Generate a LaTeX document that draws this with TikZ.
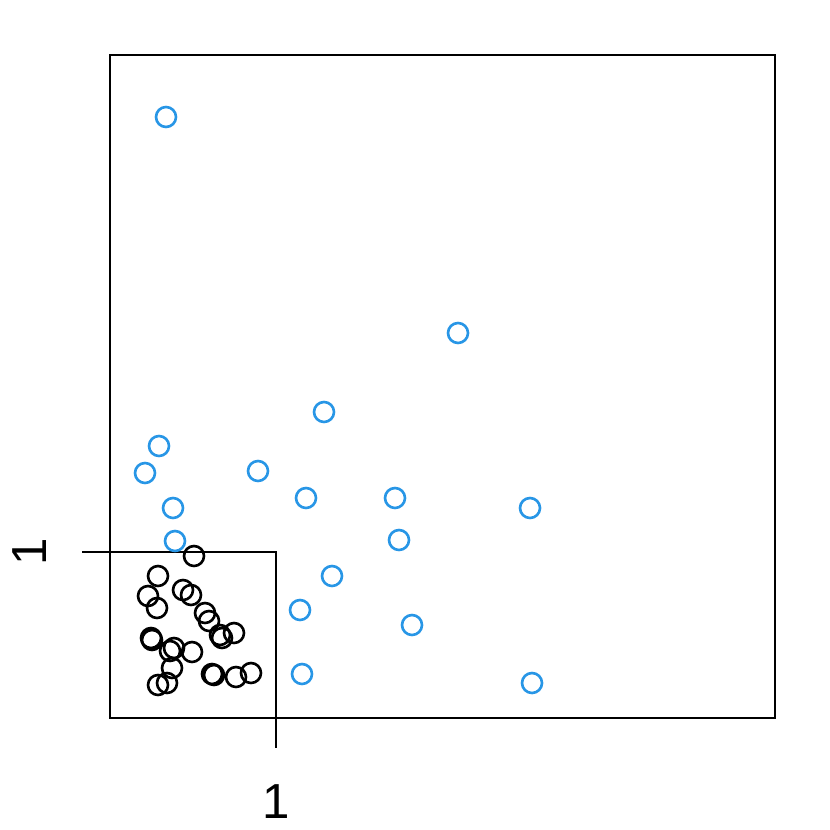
\documentclass[tikz,border=0pt]{standalone}
\usepackage{fontspec}
\setmainfont{Liberation Sans}
\usepackage{tikz}
\definecolor{ptblue}{HTML}{2896E6}
\tikzstyle{pt_b} = [circle, draw=ptblue, line width=1.5pt, inner sep=0pt, minimum size=0.4cm]
\tikzstyle{pt_k} = [circle, draw=black, line width=1.5pt, inner sep=0pt, minimum size=0.4cm]
\tikzstyle{lab} = [font=\fontsize{28}{28}\selectfont]
\begin{document}
\begin{tikzpicture}[x=0.02cm,y=-0.02cm,line width=1.4pt]
\useasboundingbox (0,0) rectangle (830,830);
% frames
\node [draw, minimum width=13.3cm, minimum height=13.26cm, inner sep=0pt, line width=1.4pt] (outer) at (442.5,386.5) {};
\coordinate (o) at (110,718);
\coordinate (c) at (276,552);
\coordinate (tl) at (82,552);
\coordinate (tb) at (276,748);
\draw (tl) -| (c) -- (tb);
\draw (110,552) -- (c);
\node [lab] (xlab) at (276,802) {1};
\node [lab, rotate=90] (ylab) at (30,552) {1};
% blue points
\foreach \px/\py [count=\i] in {166/117,458/333,324/412,159/446,145/473,258/471,306/498,395/498,530/508,173/508,175/541,399/540,332/576,300/610,412/625,302/674,532/683}
    \node [pt_b] (b\i) at (\px,\py) {};
% black points
\foreach \px/\py [count=\i] in {194/556,158/576,148/596,183/590,191/595,157/608,205/613,209/621,220/635,222/638,234/633,151/638,152/640,170/651,174/648,192/652,172/668,212/674,214/675,236/677,251/673,167/683,158/685}
    \node [pt_k] (k\i) at (\px,\py) {};
\end{tikzpicture}
\end{document}
